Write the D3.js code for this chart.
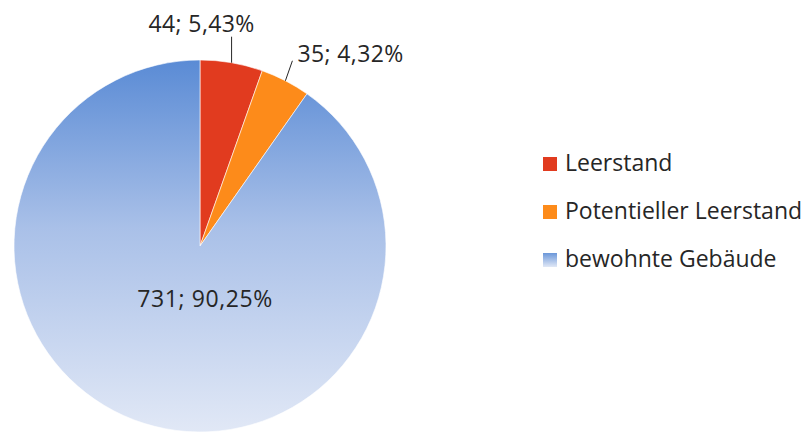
<!DOCTYPE html>
<html>
<head>
<meta charset="utf-8">
<script src="https://cdn.jsdelivr.net/npm/d3@7"></script>
<style>
  body { margin: 0; background: #fff; }
  text { font-family: "Open Sans", sans-serif; fill: #262626; }
</style>
</head>
<body>
<svg id="chart" width="810" height="434"></svg>
<script>
// Daten
var categories = ["Leerstand", "Potentieller Leerstand", "bewohnte Gebäude"];
var counts = [44, 35, 731];
var percentLabels = ["5,43%", "4,32%", "90,25%"];

var width = 810, height = 434,
    cx = 200, cy = 246, radius = 186;

var svg = d3.select("#chart");

// Verlauf fuer bewohnte Gebaeude (Koordinaten relativ zum Kreismittelpunkt)
var defs = svg.append("defs");
var grad = defs.append("linearGradient")
    .attr("id", "blueGrad")
    .attr("gradientUnits", "userSpaceOnUse")
    .attr("x1", 0).attr("y1", -radius)
    .attr("x2", 0).attr("y2", radius);
grad.append("stop").attr("offset", "0%").attr("stop-color", "#5a8bd5");
grad.append("stop").attr("offset", "45%").attr("stop-color", "#a9c0e8");
grad.append("stop").attr("offset", "100%").attr("stop-color", "#e1e8f6");

var color = d3.scaleOrdinal()
    .domain(categories)
    .range(["#e13b1f", "#fd8b1a", "url(#blueGrad)"]);

var legendColor = d3.scaleOrdinal()
    .domain(categories)
    .range(["#e13b1f", "#fd8b1a", "url(#legendGrad)"]);

var lg = defs.append("linearGradient")
    .attr("id", "legendGrad")
    .attr("x1", 0).attr("y1", 0).attr("x2", 0).attr("y2", 1);
lg.append("stop").attr("offset", "0%").attr("stop-color", "#6b97d9");
lg.append("stop").attr("offset", "100%").attr("stop-color", "#e1e8f6");

var pie = d3.pie().sort(null).value(function(d) { return d; });
var arcs = pie(counts);

var arc = d3.arc().innerRadius(0).outerRadius(radius);

var g = svg.append("g").attr("transform", "translate(" + cx + "," + cy + ")");

g.selectAll("path")
    .data(arcs)
    .enter().append("path")
    .attr("d", arc)
    .attr("fill", function(d, i) { return color(categories[i]); })
    .attr("stroke", "#fff")
    .attr("stroke-width", 0.6);

// Beschriftungen ausserhalb mit Fuehrungslinien
var lift = [[0, -26], [7, -20]];
var textOff = [[-30, -5, "middle"], [5, 1, "start"]];

for (var i = 0; i < 2; i++) {
    var a = (arcs[i].startAngle + arcs[i].endAngle) / 2;
    var px = Math.sin(a) * radius, py = -Math.cos(a) * radius;
    var qx = px + lift[i][0], qy = py + lift[i][1];
    g.append("line")
        .attr("x1", px).attr("y1", py)
        .attr("x2", qx).attr("y2", qy)
        .attr("stroke", "#262626")
        .attr("stroke-width", 1);
    g.append("text")
        .attr("x", qx + textOff[i][0])
        .attr("y", qy + textOff[i][1])
        .attr("text-anchor", textOff[i][2])
        .style("font-size", "23px")
        .style("letter-spacing", "0.4px")
        .text(counts[i] + "; " + percentLabels[i]);
}

// Beschriftung innen
g.append("text")
    .attr("x", 5)
    .attr("y", 61)
    .attr("text-anchor", "middle")
    .style("font-size", "23px")
    .style("letter-spacing", "0.6px")
    .text(counts[2] + "; " + percentLabels[2]);

// Legende
var legend = svg.selectAll(".legend")
    .data(categories)
    .enter().append("g")
    .attr("class", "legend")
    .attr("transform", function(d, i) { return "translate(543," + (157 + i * 48) + ")"; });

legend.append("rect")
    .attr("width", 14)
    .attr("height", 14)
    .attr("fill", function(d) { return legendColor(d); });

legend.append("text")
    .attr("x", 22)
    .attr("y", 14)
    .style("font-size", "23px")
    .text(function(d) { return d; });
</script>
</body>
</html>
